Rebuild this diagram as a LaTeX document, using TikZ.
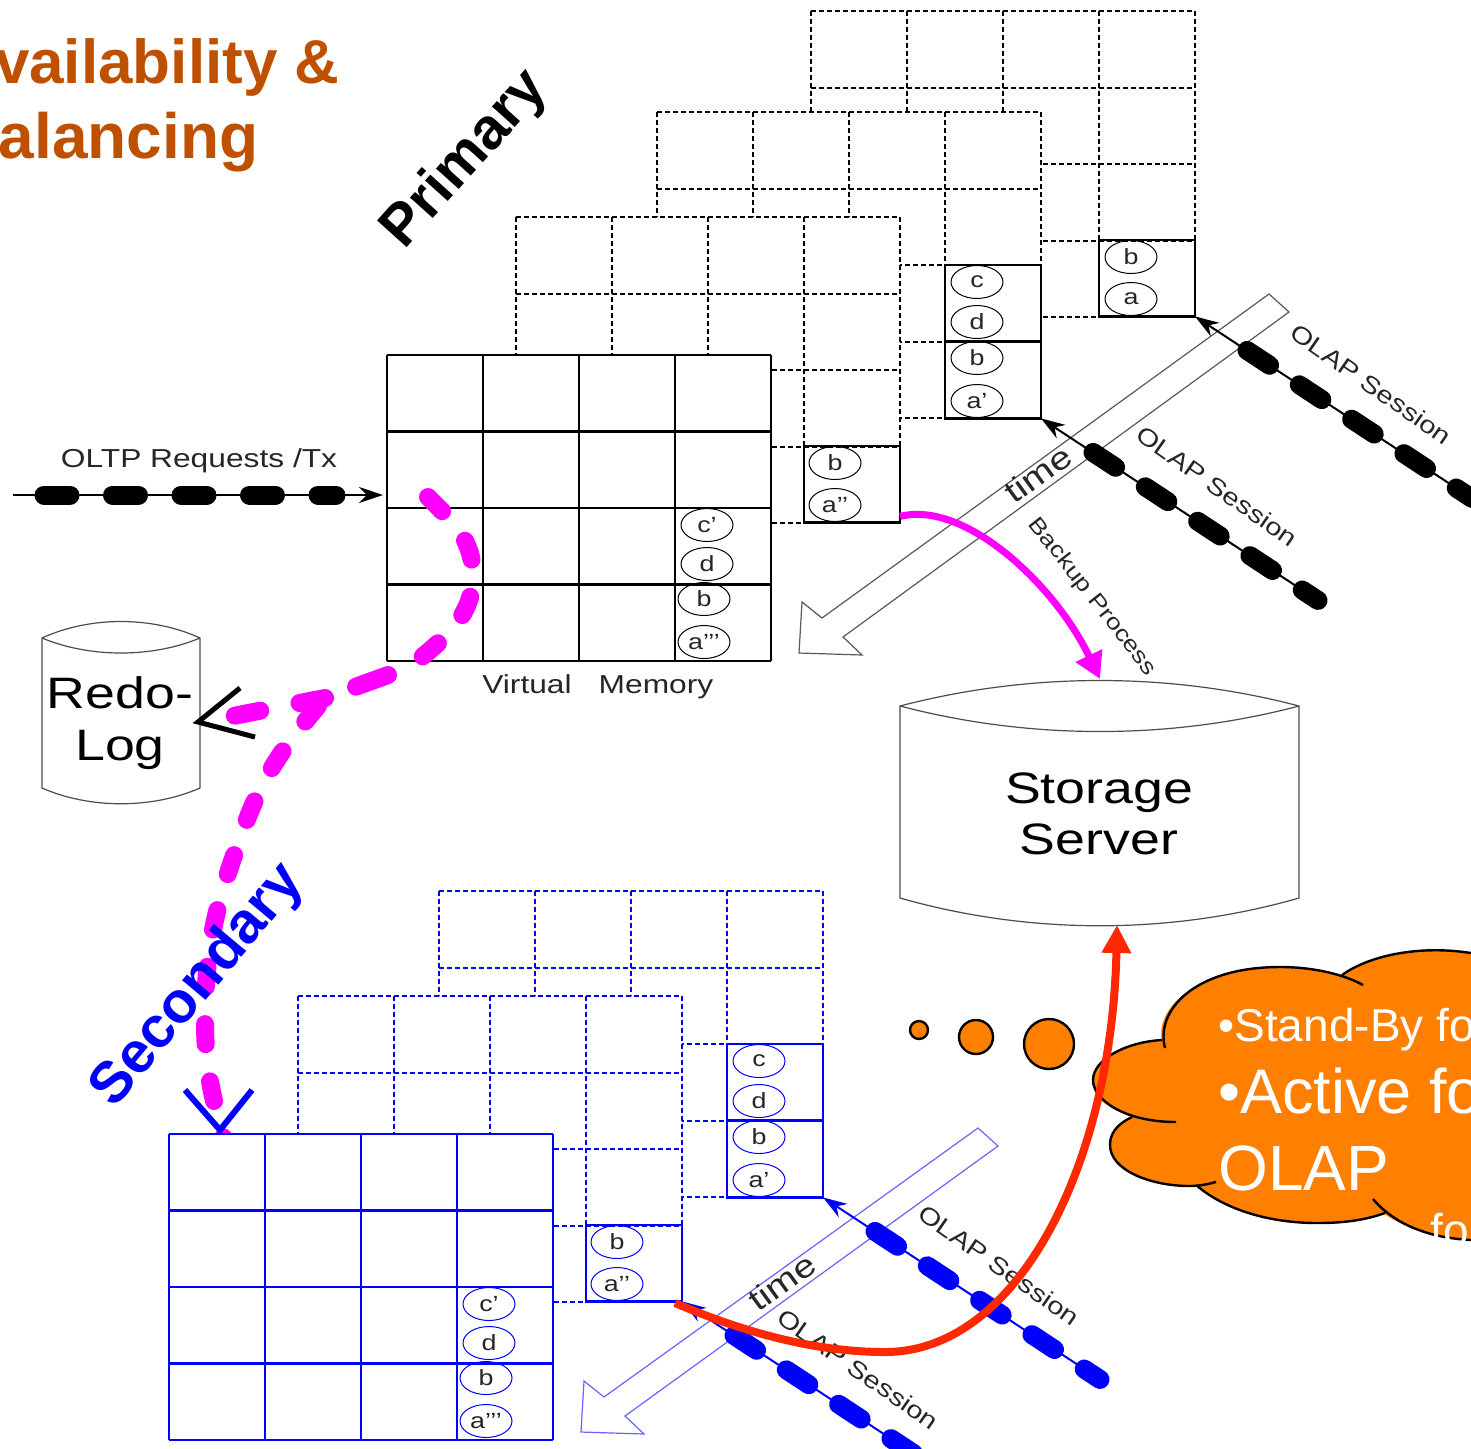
\documentclass[tikz,border=0pt]{standalone}
\usepackage{fontspec}
\setmainfont{Liberation Sans}
\newfontfamily\widesans[FakeStretch=1.22]{Liberation Sans}
\usetikzlibrary{arrows.meta,calc,shapes.geometric}
\definecolor{titleorange}{RGB}{190,80,0}
\definecolor{cloudorange}{RGB}{255,128,0}
\definecolor{flowpink}{RGB}{255,0,255}
\definecolor{redline}{RGB}{255,40,0}
\tikzset{
	dashgrid/.style={line width=1pt, dash pattern=on 2.5pt off 1.5pt},
	solidgrid/.style={line width=1.2pt},
	cellbox/.style={draw, line width=1.4pt, anchor=north west, minimum width=48pt, minimum height=38.2pt, inner sep=0pt, outer sep=0pt},
	pagecell/.style={draw, ellipse, line width=.5pt, minimum width=26pt, minimum height=16.5pt, inner sep=0pt, text=black!85, font=\widesans\fontsize{11}{11}\selectfont},
	tag/.style={text=black!85, font=\widesans\fontsize{13}{13}\selectfont},
	sesstag/.style={text=black!85, font=\widesans\fontsize{12}{12}\selectfont},
	sessline/.style={line width=1pt, -{Stealth[length=12pt,width=8pt]}},
	pills/.style={line width=9.5pt, line cap=round, dash pattern=on 13.5pt off 17.8pt},
	can/.style={draw=black!70, line width=.6pt},
	timearrow/.style={fill=white, line width=.6pt},
	replog/.style={flowpink, line width=9pt, line cap=round, dash pattern=on 10pt off 18.75pt},
	openhead/.style={line width=2.5pt},
	cloudline/.style={line width=1.2pt},
	bubble/.style={draw, circle, fill=cloudorange, line width=1.2pt, inner sep=0pt},
	cloudtext/.style={anchor=base west, inner sep=0pt, text=white}
}
\newcommand{\memgrid}[3]{
	\fill[white] (#1,#2) rectangle +(384,306);
	\foreach \i in {0,...,4} {
		\draw[#3] ($(#1,#2)+(96*\i,0)$) -- +(0,306);
		\draw[#3] ($(#1,#2)+(0,76.5*\i)$) -- +(384,0);
	}
}
\newcommand{\olapline}[2]{
	\coordinate (#1start) at ($(#2)+(52,34)$);
	\coordinate (#1end) at ($(#2)+(277,182)$);
	\draw[sessline] (#1end) -- (#2);
	\draw[pills] (#1start) -- (#1end);
	\node[sesstag, rotate=-35] (#1text) at ($(#2)+(176,68)$) {OLAP Session};
}
\newcommand{\memstack}[1]{
	\memgrid{657}{112}{dashgrid}
	\node[cellbox] (#1upper) at (945,265) {};
	\node[cellbox] (#1lower) at (945,342) {};
	\node[pagecell] (#1c) at (977,282) {c};
	\node[pagecell] (#1d) at (977,322) {d};
	\node[pagecell] (#1b) at (977,358) {b};
	\node[pagecell] (#1a) at (977,401) {a’};
	\memgrid{516}{217}{dashgrid}
	\node[cellbox] (#1mid) at (804,446) {};
	\node[pagecell] (#1mb) at (835,463) {b};
	\node[pagecell] (#1ma) at (835,505) {a’’};
	\memgrid{387}{355}{solidgrid}
	\node[pagecell] (#1fc) at (707,525) {c’};
	\node[pagecell] (#1fd) at (707,564) {d};
	\node[pagecell] (#1fb) at (704,599) {b};
	\node[pagecell] (#1fa) at (704,642) {a’’’};
}
\begin{document}
\begin{tikzpicture}[x=.5pt, y=-.5pt]
	\useasboundingbox (0,0) rectangle (1471,1448);
	\clip (0,0) rectangle (1471,1448);
	\node[anchor=base east, inner sep=0pt, text=titleorange, font=\bfseries\fontsize{31}{31}\selectfont] (titlea) at (340,83) {Availability \&};
	\node[anchor=base east, inner sep=0pt, text=titleorange, font=\bfseries\fontsize{32}{32}\selectfont] (titleb) at (259,158) {B\kern2pt alancing};
	\node[rotate=48, font=\bfseries\fontsize{29}{29}\selectfont] (primary) at (466,160) {Primary};
	% primary side
	\memgrid{811}{11}{dashgrid}
	\node[cellbox] (ptop) at (1099,240) {};
	\node[pagecell] (ptopb) at (1131,257) {b};
	\node[pagecell] (ptopa) at (1131,299) {a};
	\memstack{p}
	\draw[timearrow, draw=black!65] (1269,294) -- (1289,312) -- (843,637) -- (862,655) -- (799,653) -- (802,602) -- (822,618) -- cycle;
	\node[rotate=36, text=black!85, font=\widesans\fontsize{16}{16}\selectfont] (ptime) at (1038,474) {time};
	\olapline{ps}{ptop.south east}
	\olapline{pr}{plower.south east}
	% requests into the grid
	\coordinate (txstart) at (13,495);
	\coordinate (txend) at (383,495);
	\coordinate (txpill) at (44,495);
	\coordinate (txpillend) at (336,495);
	\draw[sessline] (txstart) -- (txend);
	\draw[line width=9.5pt, line cap=round, dash pattern=on 13pt off 21.25pt] (txpill) -- (txpillend);
	\node[tag, anchor=base] (oltp) at (199,467) {OLTP Requests /Tx};
	\node[tag, anchor=base] (vm) at (527,693) {Virtual};
	\node[tag, anchor=base] (vmm) at (656,693) {Memory};
	% redo log
	\draw[can, fill=white] (42,638) .. controls (90,616) and (152,616) .. (200,638) -- (200,788) .. controls (152,809) and (90,809) .. (42,788) -- cycle;
	\draw[can] (42,638) .. controls (90,658) and (152,658) .. (200,638);
	\node[align=center, font=\widesans\fontsize{22}{26}\selectfont] (redo) at (120,723) {Redo-\\Log};
	% storage
	\draw[can, fill=white] (900,706) .. controls (1030,672) and (1170,672) .. (1299,706) -- (1299,898) .. controls (1170,935) and (1030,935) .. (900,898) -- cycle;
	\draw[can] (900,706) .. controls (1030,740) and (1170,740) .. (1299,706);
	\node[align=center, font=\widesans\fontsize{22}{25.5}\selectfont] (storage) at (1099,814) {Storage\\Server};
	\coordinate (sttop) at (1100,679);
	\coordinate (stbot) at (1117,925);
	\draw[flowpink, line width=3.5pt, -{Triangle[length=13pt,width=14pt]}] ([yshift=3pt]pmid.south east) .. controls (965,500) and (1055,585) .. (sttop);
	\node[sesstag, rotate=-52, font=\widesans\fontsize{11}{11}\selectfont] (backup) at (1092,597) {Backup Process};
	% log shipping
	\coordinate (loga) at (428,497);
	\coordinate (logb) at (473,575);
	\coordinate (logc) at (422,657);
	\coordinate (logj) at (388,675);
	\coordinate (logh) at (325,698);
	\coordinate (logi) at (233,716);
	\coordinate (logk) at (318,706);
	\coordinate (loge) at (243,830);
	\coordinate (logf) at (205,1020);
	\coordinate (logg) at (224,1140);
	\coordinate (redotip) at (198,722);
	\draw[replog] (loga) to[out=-45,in=90] (logb) to[out=-90,in=40] (logc);
	\draw[replog, dash pattern=on 17pt off 16.5pt on 13pt off 20pt on 13pt off 20pt] (logj) -- (logh) -- (logi);
	\draw[replog] (logk) to[out=-130,in=70] (loge) to[out=-110,in=90] (logf) to[out=-90,in=105] (logg);
	\coordinate (redoa) at (240,688);
	\coordinate (redob) at (255,737);
	\draw[openhead] (redoa) -- (redotip) -- (redob);
	% secondary side
	\begin{scope}[shift={(-218,779)}, color=blue]
		\memstack{s}
		\draw[timearrow, draw=blue!60] (1196,349) -- (1216,367) -- (843,637) -- (862,655) -- (799,653) -- (802,602) -- (822,618) -- cycle;
		\node[rotate=36, text=black!85, font=\widesans\fontsize{16}{16}\selectfont] (stime) at (1000,503) {time};
		\olapline{sr}{smid.south east}
		\olapline{sq}{slower.south east}
	\end{scope}
	\coordinate (bluea) at (185,1090);
	\coordinate (bluetip) at (220,1130);
	\coordinate (blueb) at (252,1090);
	\draw[openhead, blue, line width=3pt] (bluea) -- (bluetip) -- (blueb);
	\node[rotate=50, text=blue, font=\bfseries\fontsize{29}{29}\selectfont] (secondary) at (198,986) {Secondary};
	% cloud
	\node[bubble, minimum size=9pt] (bubblea) at (919,1030) {};
	\node[bubble, minimum size=17pt] (bubbleb) at (976,1037) {};
	\node[bubble, minimum size=25pt] (bubblec) at (1049,1044) {};
	\fill[cloudorange] (1162,1040) .. controls (1155,1010) and (1195,967) .. (1280,967) .. controls (1300,967) and (1325,970) .. (1342,975) .. controls (1370,955) and (1420,945) .. (1471,953) -- (1480,953) -- (1480,1240) -- (1471,1240) .. controls (1430,1238) and (1395,1225) .. (1373,1205) -- (1385,1213) .. controls (1365,1220) and (1345,1223) .. (1317,1223) .. controls (1270,1223) and (1225,1210) .. (1196,1185) -- (1190,1186) .. controls (1150,1186) and (1110,1170) .. (1110,1145) .. controls (1110,1135) and (1115,1125) .. (1132,1117) .. controls (1100,1105) and (1093,1095) .. (1093,1080) .. controls (1093,1060) and (1125,1042) .. (1162,1040) -- cycle;
	\draw[cloudline] (1342,975) .. controls (1370,955) and (1420,945) .. (1471,953);
	\draw[cloudline] (1165,1048) .. controls (1155,1010) and (1195,967) .. (1280,967) .. controls (1315,967) and (1345,975) .. (1363,985);
	\draw[cloudline] (1162,1040) .. controls (1125,1042) and (1093,1060) .. (1093,1080) .. controls (1093,1100) and (1125,1122) .. (1176,1122);
	\draw[cloudline] (1132,1117) .. controls (1115,1125) and (1110,1135) .. (1110,1145) .. controls (1110,1170) and (1150,1186) .. (1190,1186) .. controls (1200,1186) and (1208,1184) .. (1216,1182);
	\draw[cloudline] (1196,1185) .. controls (1225,1210) and (1270,1223) .. (1317,1223) .. controls (1345,1223) and (1365,1220) .. (1385,1213);
	\draw[cloudline] (1373,1199) .. controls (1395,1225) and (1430,1238) .. (1471,1240);
	\node[cloudtext, font=\fontsize{23}{23}\selectfont] (standby) at (1218,1041) {•Stand-By for};
	\node[cloudtext, font=\fontsize{31.5}{31.5}\selectfont] (active) at (1218,1113) {•Active for};
	\node[cloudtext, font=\fontsize{32}{32}\selectfont] (olap) at (1218,1190) {OLAP};
	\node[cloudtext, font=\fontsize{23}{23}\selectfont] (lastfo) at (1430,1246) {fo};
	% into the storage server
	\coordinate (redstart) at (675,1303);
	\coordinate (redmid) at (885,1352);
	\draw[redline, line width=4pt, -{Triangle[length=14pt,width=14pt]}] (redstart) .. controls (750,1335) and (820,1352) .. (redmid) .. controls (1020,1352) and (1112,1160) .. (stbot);
\end{tikzpicture}
\end{document}
